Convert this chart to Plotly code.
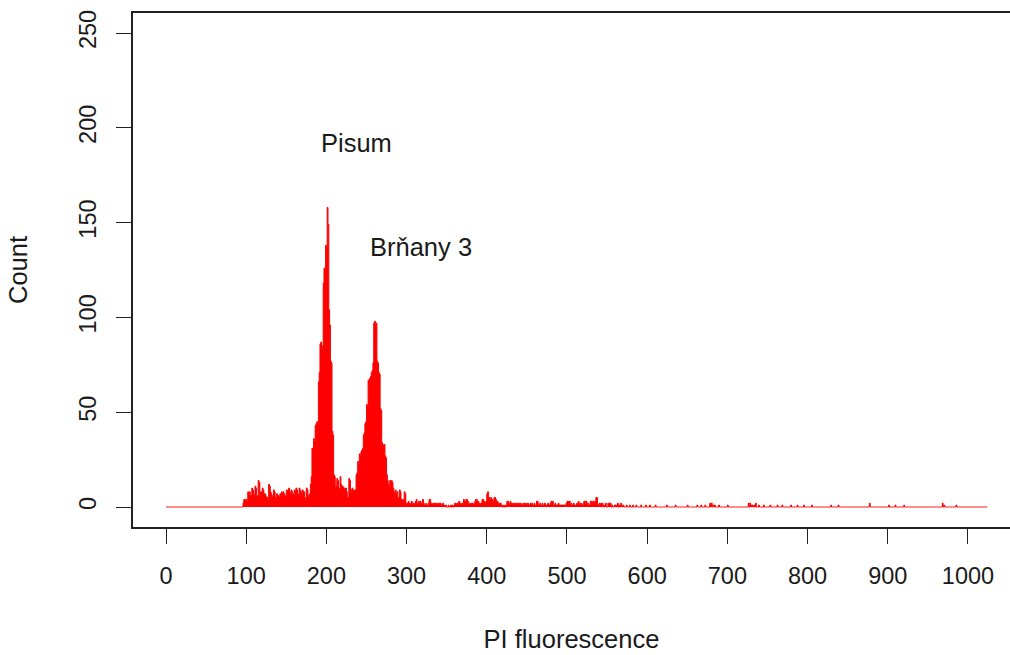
import numpy as np
import plotly.graph_objects as go

# ---------------- data ----------------
N_CHANNELS = 1024
first_dense = 96
dense_counts = [
    # 96-105
    2, 4, 3, 4, 4, 3, 8, 7, 8, 6,
    # 106-115
    6, 10, 9, 7, 6, 11, 10, 6, 5, 14,
    # 116-125
    13, 6, 8, 8, 10, 9, 7, 7, 6, 5,
    # 126-135
    5, 4, 12, 11, 8, 7, 5, 6, 9, 8,
    # 136-145
    5, 4, 7, 6, 6, 5, 7, 6, 8, 7,
    # 146-155
    8, 7, 6, 5, 9, 8, 9, 10, 8, 7,
    # 156-165
    9, 8, 7, 6, 9, 8, 10, 9, 7, 6,
    # 166-175
    10, 9, 8, 7, 9, 8, 8, 5, 4, 10,
    # 176-185
    9, 6, 5, 7, 12, 16, 31, 30, 36, 35,
    # 186-195
    43, 44, 45, 44, 66, 71, 86, 87, 84, 85,
    # 196-205
    118, 126, 125, 138, 137, 158, 149, 104, 96, 77,
    # 206-215
    76, 40, 38, 17, 16, 10, 11, 15, 14, 10,
    # 216-225
    9, 16, 12, 10, 11, 10, 10, 9, 10, 8,
    # 226-235
    5, 5, 15, 14, 8, 9, 10, 9, 8, 9,
    # 236-245
    9, 17, 18, 24, 23, 28, 27, 29, 30, 31,
    # 246-255
    38, 39, 44, 45, 54, 53, 67, 66, 68, 69,
    # 256-265
    71, 72, 76, 97, 98, 96, 97, 77, 76, 71,
    # 266-275
    70, 52, 51, 34, 33, 32, 33, 27, 26, 17,
    # 276-285
    14, 12, 11, 14, 13, 14, 13, 10, 8, 7,
    # 286-295
    9, 7, 8, 5, 5, 9, 8, 4, 3, 4,
    # 296-305
    3, 8, 7, 2, 2, 2, 3, 2, 1, 2,
    # 306-315
    3, 2, 2, 1, 2, 3, 4, 2, 2, 3,
    # 316-325
    1, 3, 2, 2, 4, 2, 1, 1, 2, 1,
    # 326-335
    1, 2, 4, 4, 2, 2, 1, 2, 2, 1,
    # 336-345
    2, 2, 1, 2, 1, 2, 2, 1, 1, 2,
    # 346-355
    1, 1, 0, 1, 0, 0, 1, 0, 0, 1,
    # 356-365
    0, 1, 0, 1, 2, 2, 1, 2, 2, 3,
    # 366-375
    2, 2, 1, 2, 2, 4, 3, 3, 4, 4,
    # 376-385
    3, 2, 2, 1, 2, 2, 2, 1, 2, 3,
    # 386-395
    4, 4, 3, 3, 2, 2, 2, 2, 4, 4,
    # 396-405
    3, 3, 2, 3, 7, 8, 5, 5, 4, 5,
    # 406-415
    4, 4, 3, 5, 5, 4, 3, 3, 2, 2,
    # 416-425
    2, 2, 1, 0, 1, 0, 1, 0, 1, 3,
    # 426-435
    3, 2, 2, 3, 2, 2, 2, 1, 2, 2,
    # 436-445
    2, 1, 2, 2, 2, 1, 2, 1, 1, 2,
    # 446-455
    1, 2, 1, 2, 1, 2, 1, 1, 2, 1,
    # 456-465
    2, 1, 1, 2, 1, 1, 3, 3, 1, 1,
    # 466-475
    2, 1, 1, 2, 1, 1, 2, 1, 1, 1,
    # 476-485
    2, 1, 1, 2, 3, 2, 3, 1, 1, 2,
    # 486-495
    1, 1, 1, 2, 1, 1, 1, 1, 1, 1,
    # 496-505
    1, 1, 1, 2, 3, 3, 2, 3, 1, 2,
    # 506-515
    1, 1, 2, 1, 1, 1, 2, 1, 3, 2,
    # 516-525
    1, 2, 1, 1, 2, 3, 3, 2, 3, 1,
    # 526-535
    2, 1, 1, 3, 3, 2, 3, 3, 2, 3,
    # 536-545
    5, 5, 1, 1, 2, 1, 2, 0, 2, 1,
    # 546-555
    0, 1, 2, 0, 0, 2, 1, 2, 2, 0,
    # 556-560
    1, 0, 0, 1, 1,
]
sparse_channels = [561, 563, 565, 567, 568, 570, 574, 578, 582, 586, 592, 598,
                   603, 610, 624, 635, 650, 662, 667, 672, 678, 680, 682, 684,
                   689, 700, 726, 728, 729, 731, 733, 735, 739, 745, 753, 762,
                   768, 779, 787, 795, 805, 829, 838, 877, 901, 909, 920, 968,
                   970, 985]
sparse_counts = [1, 2, 1, 2, 1, 1, 1, 1, 1, 1, 1, 1,
                 1, 1, 1, 1, 1, 1, 1, 1, 2, 2, 1, 1,
                 1, 1, 2, 2, 1, 1, 1, 2, 1, 1, 1, 1,
                 1, 1, 1, 1, 1, 1, 1, 2, 1, 1, 1, 2,
                 1, 1]

x_ticks = [0, 100, 200, 300, 400, 500, 600, 700, 800, 900, 1000]
y_ticks = [0, 50, 100, 150, 200, 250]

labels = ["Pisum", "Brňany 3"]
label_x = [238, 318]
label_y = [192, 137]

# ---------------- assemble histogram ----------------
counts = np.zeros(N_CHANNELS)
counts[first_dense:first_dense + len(dense_counts)] = dense_counts
counts[sparse_channels] = sparse_counts
channels = np.arange(N_CHANNELS)

FONT = "Liberation Sans, Arial, sans-serif"
TXT = "#1a1a1a"

fig = go.Figure()
fig.add_trace(go.Scatter(
    x=np.append(channels, N_CHANNELS),
    y=np.append(counts, counts[-1]),
    mode="lines",
    line=dict(color="#ff0000", width=1, shape="hv"),
    fill="tozeroy",
    fillcolor="#ff0000",
    hoverinfo="skip",
    showlegend=False,
))

for t, xx, yy in zip(labels, label_x, label_y):
    fig.add_annotation(x=xx, y=yy, text=t, showarrow=False,
                       font=dict(family=FONT, size=25.5, color=TXT))

fig.update_layout(
    width=1010, height=655,
    margin=dict(l=133, r=0, t=13, b=128),
    paper_bgcolor="white", plot_bgcolor="white",
    font=dict(family=FONT, size=23, color=TXT),
    xaxis=dict(
        range=[-41.15, 1052.4], automargin=False,
        tickvals=x_ticks, ticktext=[str(v) for v in x_ticks],
        showgrid=False, zeroline=False,
        showline=True, mirror=True, linecolor="#222", linewidth=1.5,
        ticks="outside", ticklen=15, tickwidth=1.3, tickcolor="#222",
        ticklabelstandoff=12,
        tickfont=dict(family=FONT, size=23.5, color=TXT),
        title=dict(text="PI fluorescence", standoff=42,
                   font=dict(family=FONT, size=25.5, color=TXT)),
    ),
    yaxis=dict(
        range=[-10.55, 260.55], automargin=False,
        tickvals=y_ticks, ticktext=[str(v) for v in y_ticks],
        tickangle=-90,
        showgrid=False, zeroline=False,
        showline=True, mirror=False, linecolor="#222", linewidth=1.5,
        ticks="outside", ticklen=15, tickwidth=1.3, tickcolor="#222",
        ticklabelstandoff=11,
        tickfont=dict(family=FONT, size=23.5, color=TXT),
        title=dict(text="Count", standoff=40,
                   font=dict(family=FONT, size=25.5, color=TXT)),
    ),
)

fig.write_html(
    "out.html",
    config={"displayModeBar": False},
    post_script="document.body.style.margin='0';document.body.style.overflow='hidden';",
)
